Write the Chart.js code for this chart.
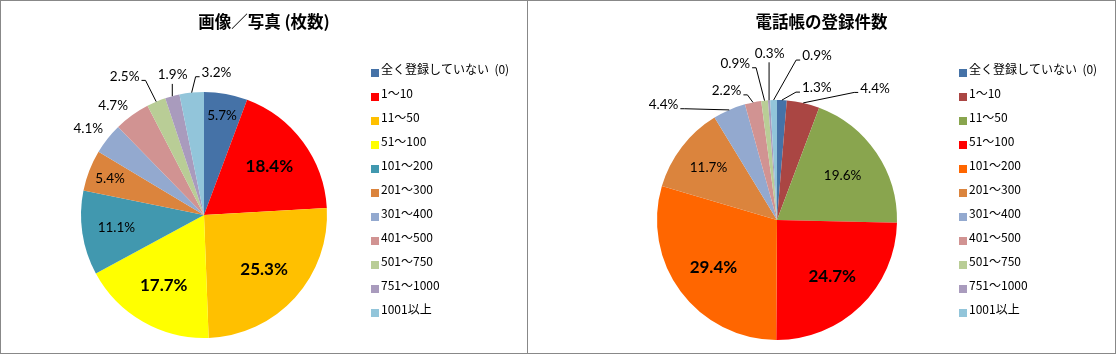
<!DOCTYPE html>
<html>
<head>
<meta charset="utf-8">
<script src="https://cdn.jsdelivr.net/npm/chart.js@4.4.0/dist/chart.umd.min.js"></script>
<style>
  body { margin: 0; background: #fff; }
  #frame { position: relative; width: 1114px; height: 352px; border: 1px solid #888; }
  #photoChart { position: absolute; left: 0; top: 0; }
  #phoneChart { position: absolute; left: 527px; top: 0; }
  #divider { position: absolute; left: 526px; top: 0; width: 1px; height: 352px; background: #888; }
</style>
</head>
<body>
<div id="frame">
  <canvas id="photoChart" width="526" height="352"></canvas>
  <div id="divider"></div>
  <canvas id="phoneChart" width="587" height="352"></canvas>
</div>
<script>
// Categories (shared legend)
const categories = ['全く登録していない  (0)', '1～10', '11～50', '51～100', '101～200', '201～300',
  '301～400', '401～500', '501～750', '751～1000', '1001以上'];

// Percent shares
const photoValues = [5.7, 18.4, 25.3, 17.7, 11.1, 5.4, 4.1, 4.7, 2.5, 1.9, 3.2];
const phoneValues = [1.3, 4.4, 19.6, 24.7, 29.4, 11.7, 4.4, 2.2, 0.9, 0.3, 0.9];

const photoColors = ['#4572A7', '#FF0000', '#FFC000', '#FFFF00', '#4198AF', '#DB843D',
  '#93A9CF', '#D19392', '#B9CD96', '#A99BBD', '#92C5DA'];
const phoneColors = ['#4572A7', '#AA4643', '#89A54E', '#FF0000', '#FF6600', '#DB843D',
  '#93A9CF', '#D19392', '#B9CD96', '#A99BBD', '#92C5DA'];

// Title, data labels (inside / outside with leader lines) and legend
const pieDecor = {
    id: 'pieDecor',
    afterDatasetsDraw(chart, args, opts) {
        const ctx = chart.ctx;
        const meta = chart.getDatasetMeta(0);
        const values = chart.data.datasets[0].data;
        const colors = chart.data.datasets[0].backgroundColor;
        ctx.save();
        ctx.fillStyle = '#000';
        ctx.strokeStyle = '#000';
        ctx.lineWidth = 1;

        // title
        ctx.font = 'bold 16.5px "Noto Sans CJK JP"';
        ctx.textAlign = 'center';
        ctx.textBaseline = 'middle';
        ctx.fillText(opts.title, chart.width / 2, 21);

        // slice labels
        meta.data.forEach((arc, i) => {
            const v = values[i];
            const mid = (arc.startAngle + arc.endAngle) / 2;
            const cos = Math.cos(mid), sin = Math.sin(mid);
            const r = arc.outerRadius;
            const text = v.toFixed(1) + '%';
            ctx.fillStyle = '#000';
            if (v >= 5) {
                const k = v >= 15 ? 0.66 : v >= 10 ? 0.72 : 0.82;
                ctx.font = opts.bold.includes(i) ? 'bold 17px Lato' : '13.5px Lato';
                ctx.fillText(text, arc.x + cos * r * k, arc.y + sin * r * k);
                return;
            }
            const nudge = opts.nudges[i] || [0, 0];
            const cx = arc.x + cos * (r + 22) + nudge[0];
            const cy = arc.y + sin * (r + 22) + nudge[1];
            ctx.font = '13.5px Lato';
            const w = ctx.measureText(text).width;
            const box = { l: cx - w / 2 - 1, r: cx + w / 2 + 1, t: cy - 7, b: cy + 7 };
            const ex = arc.x + cos * r, ey = arc.y + sin * r;
            const nx = Math.max(box.l, Math.min(ex, box.r));
            const ny = Math.max(box.t, Math.min(ey, box.b));
            if (Math.hypot(ex - nx, ey - ny) > 10) {
                ctx.beginPath();
                ctx.moveTo(ex, ey);
                if (box.r < ex - 2) {
                    ctx.lineTo(box.r + 5, cy + 4);
                    ctx.lineTo(box.r + 1, cy + 4);
                } else if (box.l > ex + 2) {
                    ctx.lineTo(box.l - 5, cy + 4);
                    ctx.lineTo(box.l - 1, cy + 4);
                } else {
                    ctx.lineTo(ex, box.b + 2);
                }
                ctx.stroke();
            }
            ctx.fillText(text, cx, cy);
        });

        // legend
        ctx.textAlign = 'left';
        ctx.textBaseline = 'alphabetic';
        ctx.font = '12px "Noto Sans CJK JP"';
        chart.data.labels.forEach((label, i) => {
            ctx.fillStyle = colors[i];
            ctx.fillRect(opts.legendX, 68 + 24 * i, 8, 8);
            ctx.fillStyle = '#000';
            ctx.fillText(label, opts.legendX + 10, 73 + 24 * i);
        });
        ctx.restore();
    }
};

function makePie(id, values, colors, padding, decor) {
    return new Chart(document.getElementById(id), {
        type: 'pie',
        data: {
            labels: categories,
            datasets: [{
                data: values,
                backgroundColor: colors,
                borderWidth: 0,
                hoverOffset: 0
            }]
        },
        options: {
            responsive: false,
            animation: false,
            events: [],
            layout: { padding: padding },
            plugins: {
                legend: { display: false },
                tooltip: { enabled: false },
                pieDecor: decor
            }
        },
        plugins: [pieDecor]
    });
}

makePie('photoChart', photoValues, photoColors,
    { left: 80, top: 91, right: 200, bottom: 15 },
    {
        title: '画像／写真 (枚数)',
        bold: [1, 2, 3],
        legendX: 370,
        nudges: { 6: [-2, 4], 7: [-6, 8], 8: [-23, -5], 9: [6, 0], 10: [27, 2] }
    });

makePie('phoneChart', phoneValues, phoneColors,
    { left: 129, top: 99, right: 218, bottom: 13 },
    {
        title: '電話帳の登録件数',
        bold: [3, 4],
        legendX: 431,
        nudges: { 0: [34, 10], 1: [67, 7], 6: [-57, 15], 7: [-22, 10], 8: [-27, -15], 9: [2, -25], 10: [44, -22] }
    });
</script>
</body>
</html>
